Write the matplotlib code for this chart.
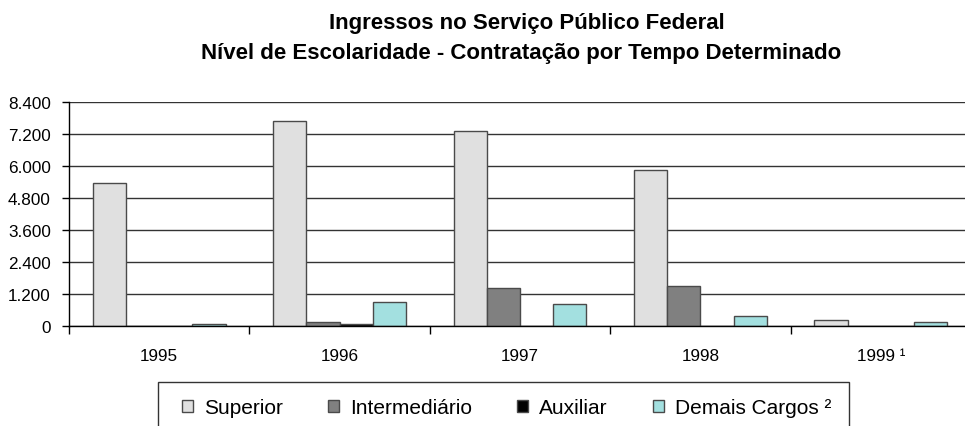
import numpy as np
import matplotlib.pyplot as plt
from matplotlib.patches import Rectangle

plt.rcParams['font.family'] = ['Liberation Sans', 'DejaVu Sans']

anos = ['1995', '1996', '1997', '1998', '1999 ¹']
superior = [5370, 7680, 7310, 5840, 225]
intermediario = [0, 140, 1410, 1490, 0]
auxiliar = [0, 60, 0, 0, 0]
demais = [65, 890, 815, 390, 140]

series = ['Superior', 'Intermediário', 'Auxiliar', 'Demais Cargos ²']
cores = ['#e0e0e0', '#808080', '#000000', '#a3e0e0']
yticks = [0, 1200, 2400, 3600, 4800, 6000, 7200, 8400]

W, H = 965, 427
fig = plt.figure(figsize=(W / 100, H / 100), dpi=100)
ax = fig.add_axes([69 / W, 100 / H, 902 / W, 224 / H])

x = np.arange(len(anos))
w = 0.184
valores = [superior, intermediario, auxiliar, demais]
for i, (nome, vals, cor) in enumerate(zip(series, valores, cores)):
    ax.bar(x + (i - 1.5) * w, vals, w, color=cor, edgecolor='#4a4a4a',
           linewidth=1, label=nome, zorder=3)

ax.set_xlim(-0.5, len(anos) - 0.5)
ax.set_ylim(0, 8400)
ax.set_yticks(yticks)
ax.set_yticklabels([f"{v:,}".replace(",", ".") for v in yticks], fontsize=12.3)
ax.yaxis.grid(True, color='#333333', linewidth=1, zorder=0)
ax.set_axisbelow(True)

# ticks at category boundaries, labels at centres
ax.set_xticks(np.arange(len(anos) + 1) - 0.5)
ax.set_xticklabels([])
ax.set_xticks(x, minor=True)
ax.set_xticklabels(anos, minor=True, fontsize=12.3)
ax.tick_params(axis='x', which='minor', length=0, pad=16)
ax.tick_params(axis='x', which='major', length=6, direction='out', width=1)
ax.tick_params(axis='y', length=5, direction='out', width=1, pad=8)

for s in ['top', 'right']:
    ax.spines[s].set_visible(False)
for s in ['left', 'bottom']:
    ax.spines[s].set_color('black')
    ax.spines[s].set_linewidth(1)
    ax.spines[s].set_zorder(5)

fig.text(527 / W, 1 - 29 / H, 'Ingressos no Serviço Público Federal',
         ha='center', va='baseline', fontsize=16, fontweight='bold')
fig.text(521 / W, 1 - 59 / H,
         'Nível de Escolaridade - Contratação por Tempo Determinado',
         ha='center', va='baseline', fontsize=16, fontweight='bold')

# legend entries, frame drawn separately (box runs off the bottom edge)
leg = fig.legend(loc='center left', bbox_to_anchor=(182 / W, 1 - 409 / H),
                 ncol=4, fontsize=15, frameon=False,
                 handlelength=0.53, handleheight=0.53, handletextpad=0.53,
                 columnspacing=2.16, borderpad=0, borderaxespad=0)
fig.add_artist(Rectangle((158 / W, -0.05), (849 - 158) / W, 0.05 + 1 - 383 / H,
                         transform=fig.transFigure, fill=False,
                         edgecolor='#333333', linewidth=1))

fig.savefig('out.png', dpi=100)
